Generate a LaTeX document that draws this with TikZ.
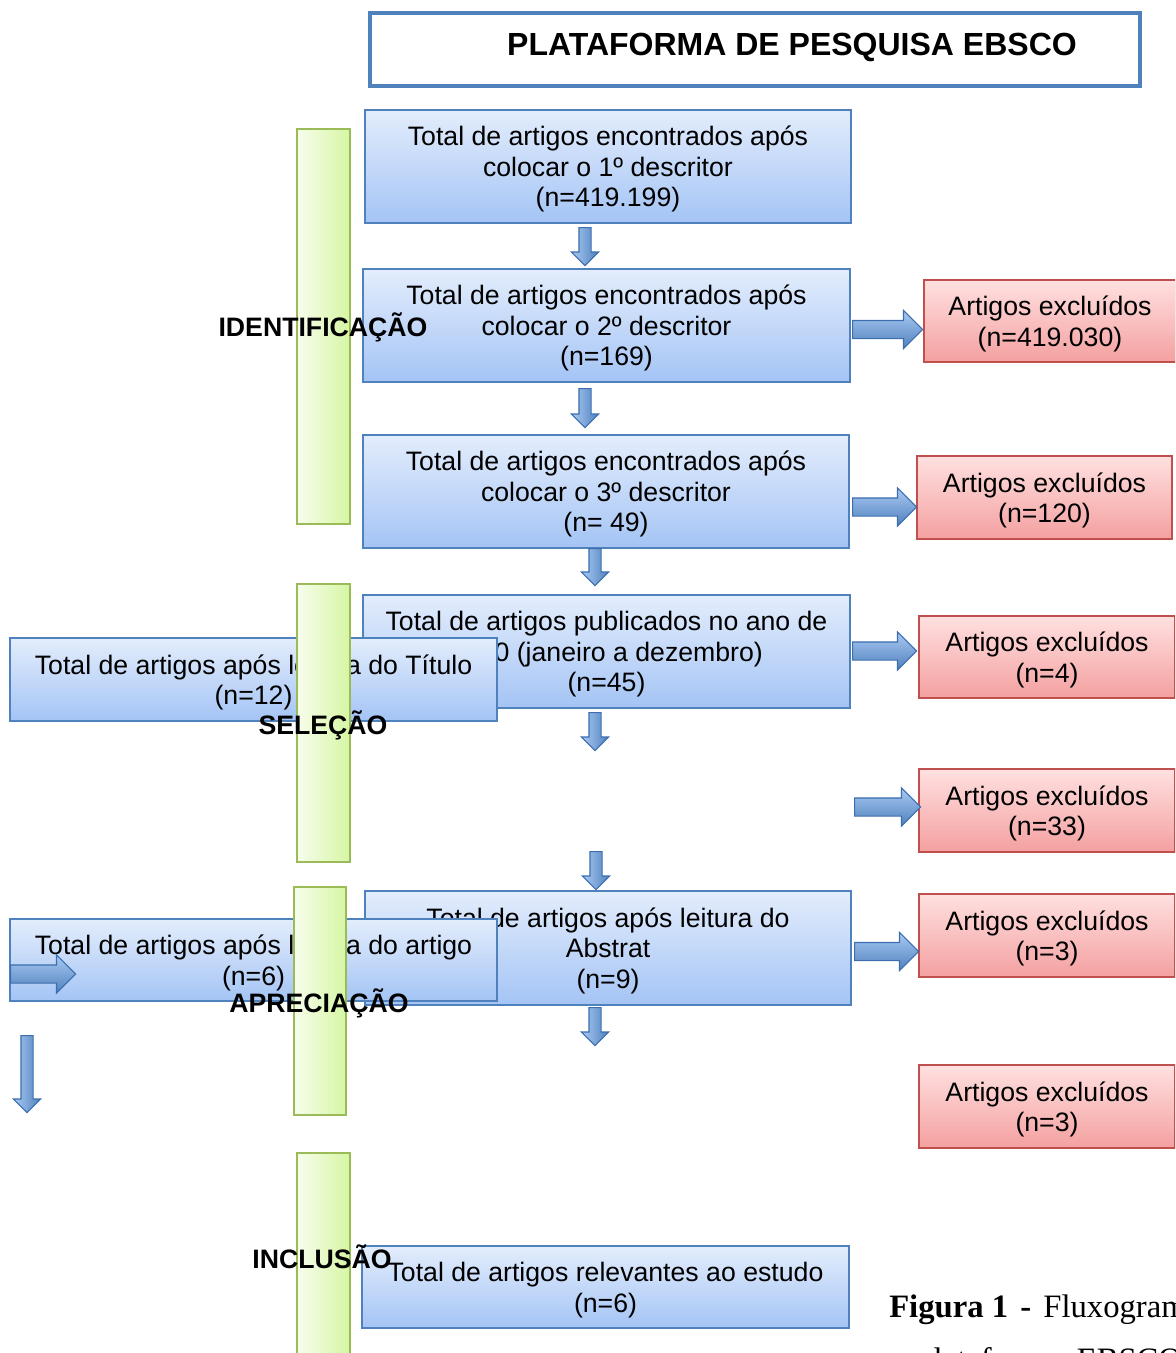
\documentclass[tikz,border=0pt]{standalone}
\usepackage{fontspec}
\setmainfont{Liberation Sans}
\newfontfamily\capfont{Liberation Serif}
\usepackage{tikz}
\usetikzlibrary{shapes.arrows,positioning}

\definecolor{boxline}{RGB}{79,129,189}
\definecolor{boxtop}{RGB}{227,237,252}
\definecolor{boxbot}{RGB}{164,196,245}
\definecolor{exline}{RGB}{192,80,77}
\definecolor{extop}{RGB}{255,224,224}
\definecolor{exbot}{RGB}{244,160,160}
\definecolor{barline}{RGB}{155,187,89}
\definecolor{barleft}{RGB}{247,253,236}
\definecolor{barright}{RGB}{214,246,164}
\definecolor{arrline}{RGB}{60,110,175}
\definecolor{arrlight}{RGB}{170,202,243}
\definecolor{arrdark}{RGB}{79,129,189}

% pushes the first line of a box a little down
\newcommand{\topgap}{\rule{0pt}{19pt}}

\tikzset{
  bluebox/.style={draw=boxline, line width=1.5pt, top color=boxtop, bottom color=boxbot,
    align=center, inner sep=0pt, font=\fontsize{20}{22.9}\selectfont},
  redbox/.style={draw=exline, line width=1.5pt, top color=extop, bottom color=exbot,
    align=center, inner sep=0pt, font=\fontsize{20}{22.9}\selectfont},
  greenbar/.style={draw=barline, line width=1.5pt, left color=barleft, right color=barright,
    inner sep=0pt, minimum width=53*0.75pt},
  stagelabel/.style={inner sep=0pt, font=\bfseries\fontsize{20}{22.9}\selectfont},
  titlebox/.style={draw=boxline, line width=3pt, fill=white, inner sep=0pt},
  titletext/.style={inner sep=0pt, font=\bfseries\fontsize{24}{28}\selectfont},
  captext/.style={inner sep=0pt, anchor=base west, font=\capfont\fontsize{24.5}{30}\selectfont},
  rightarr/.style={single arrow, draw=arrline, line width=0.8pt, top color=arrlight, bottom color=arrdark,
    inner xsep=0pt, inner ysep=8.5*0.75pt, single arrow head extend=10*0.75pt,
    minimum width=0pt, anchor=tail},
  downarr/.style={single arrow, draw=arrline, line width=0.8pt, left color=arrlight, right color=arrdark,
    inner xsep=0pt, inner ysep=5.5*0.75pt, single arrow head extend=7.5*0.75pt,
    minimum width=0pt, anchor=tail, rotate=-90},
}

\begin{document}
\begin{tikzpicture}[x=0.75pt,y=0.75pt,yscale=-1,xscale=1]
\useasboundingbox (0,0) rectangle (1175,1353);
\clip (0,0) rectangle (1175,1353);

% Title
\node[titlebox, minimum width=770*0.75pt, minimum height=73*0.75pt] (title) at (755,49.5) {};
\node[titletext] (ebsco) at (792,47.5) {PLATAFORMA DE PESQUISA EBSCO};

% Main column
\node[bluebox, minimum width=486*0.75pt, minimum height=113*0.75pt] (desc1) at (608,166.5)
  {\topgap Total de artigos encontrados após\\colocar o 1º descritor\\(n=419.199)};
\node[bluebox, minimum width=487*0.75pt, minimum height=113*0.75pt] (desc2) at (606.5,325.5)
  {\topgap Total de artigos encontrados após\\colocar o 2º descritor\\(n=169)};
\node[bluebox, minimum width=486*0.75pt, minimum height=113*0.75pt] (desc3) at (606,491.5)
  {\topgap Total de artigos encontrados após\\colocar o 3º descritor\\(n= 49)};
\node[bluebox, minimum width=487*0.75pt, minimum height=113*0.75pt] (ano) at (606.5,651.5)
  {\topgap Total de artigos publicados no ano de\\2020 (janeiro a dezembro)\\(n=45)};
\node[bluebox, minimum width=486*0.75pt, minimum height=114*0.75pt] (abstrat) at (608,948)
  {\topgap Total de artigos após leitura do\\Abstrat\\(n=9)};
\node[bluebox, minimum width=487*0.75pt, minimum height=82*0.75pt] (final) at (605.5,1287)
  {\topgap Total de artigos relevantes ao estudo\\(n=6)};

% Excluded
\node[redbox, minimum width=252*0.75pt, minimum height=82*0.75pt] (exc1) at (1050,321)
  {\topgap Artigos excluídos\\(n=419.030)};
\node[redbox, minimum width=255*0.75pt, minimum height=83*0.75pt] (exc2) at (1044.5,497.5)
  {\topgap Artigos excluídos\\(n=120)};
\node[redbox, minimum width=256*0.75pt, minimum height=82*0.75pt] (exc3) at (1047,657)
  {\topgap Artigos excluídos\\(n=4)};
\node[redbox, minimum width=256*0.75pt, minimum height=83*0.75pt] (exc4) at (1047,810.5)
  {\topgap Artigos excluídos\\(n=33)};
\node[redbox, minimum width=256*0.75pt, minimum height=83*0.75pt] (exc5) at (1047,935.5)
  {\topgap Artigos excluídos\\(n=3)};
\node[redbox, minimum width=256*0.75pt, minimum height=83*0.75pt] (exc6) at (1047,1106.5)
  {\topgap Artigos excluídos\\(n=3)};

% Block arrows
\node[downarr, minimum height=38*0.75pt] (d1) at (585,227) {};
\node[downarr, minimum height=39*0.75pt] (d2) at (585,388) {};
\node[downarr, minimum height=37*0.75pt] (d3) at (595,548) {};
\node[downarr, minimum height=38*0.75pt] (d4) at (595,712) {};
\node[downarr, minimum height=38*0.75pt] (d5) at (596,851) {};
\node[downarr, minimum height=38*0.75pt] (d6) at (595,1007) {};
\node[rightarr, minimum height=70*0.75pt] (r1) at (852,329.5) {};
\node[rightarr, minimum height=64*0.75pt] (r2) at (852,507) {};
\node[rightarr, minimum height=64*0.75pt] (r3) at (852,651) {};
\node[rightarr, minimum height=66*0.75pt] (r4) at (854,807) {};
\node[rightarr, minimum height=64*0.75pt] (r5) at (854,951.5) {};

% Left boxes
\node[bluebox, minimum width=487*0.75pt, minimum height=83*0.75pt] (titulo) at (253.5,679.5)
  {\topgap Total de artigos após leitura do Título\\(n=12)};
\node[bluebox, minimum width=487*0.75pt, minimum height=82*0.75pt] (artigo) at (253.5,960)
  {\topgap Total de artigos após leitura do artigo\\(n=6)};
\node[rightarr, minimum height=65*0.75pt] (r6) at (10,974) {};
\node[downarr, minimum height=77*0.75pt] (d7) at (27,1035) {};

% Stage bars
\node[greenbar, minimum height=395*0.75pt] (ident) at (323.5,326.5) {};
\node[greenbar, minimum height=278*0.75pt] (selec) at (323.5,723) {};
\node[greenbar, minimum height=228*0.75pt, minimum width=52*0.75pt] (aprec) at (320,1001) {};
\node[greenbar, minimum height=207*0.75pt] (inclu) at (323.5,1256.5) {};
\node[stagelabel] (lident) at (323,327.5) {IDENTIFICAÇÃO};
\node[stagelabel] (lselec) at (323,725) {SELEÇÃO};
\node[stagelabel] (laprec) at (319,1003) {APRECIAÇÃO};
\node[stagelabel] (linclu) at (322,1257) {INCLUSÃO};

% Caption
\node[captext] (fig) at (889,1317)
  {\textbf{Figura 1\hspace{3pt} -}\hspace{3pt} Fluxograma};
\node[captext] (fig2) at (878,1370)
  {na plataforma\hspace{13.5pt}EBSCO};

\end{tikzpicture}
\end{document}
